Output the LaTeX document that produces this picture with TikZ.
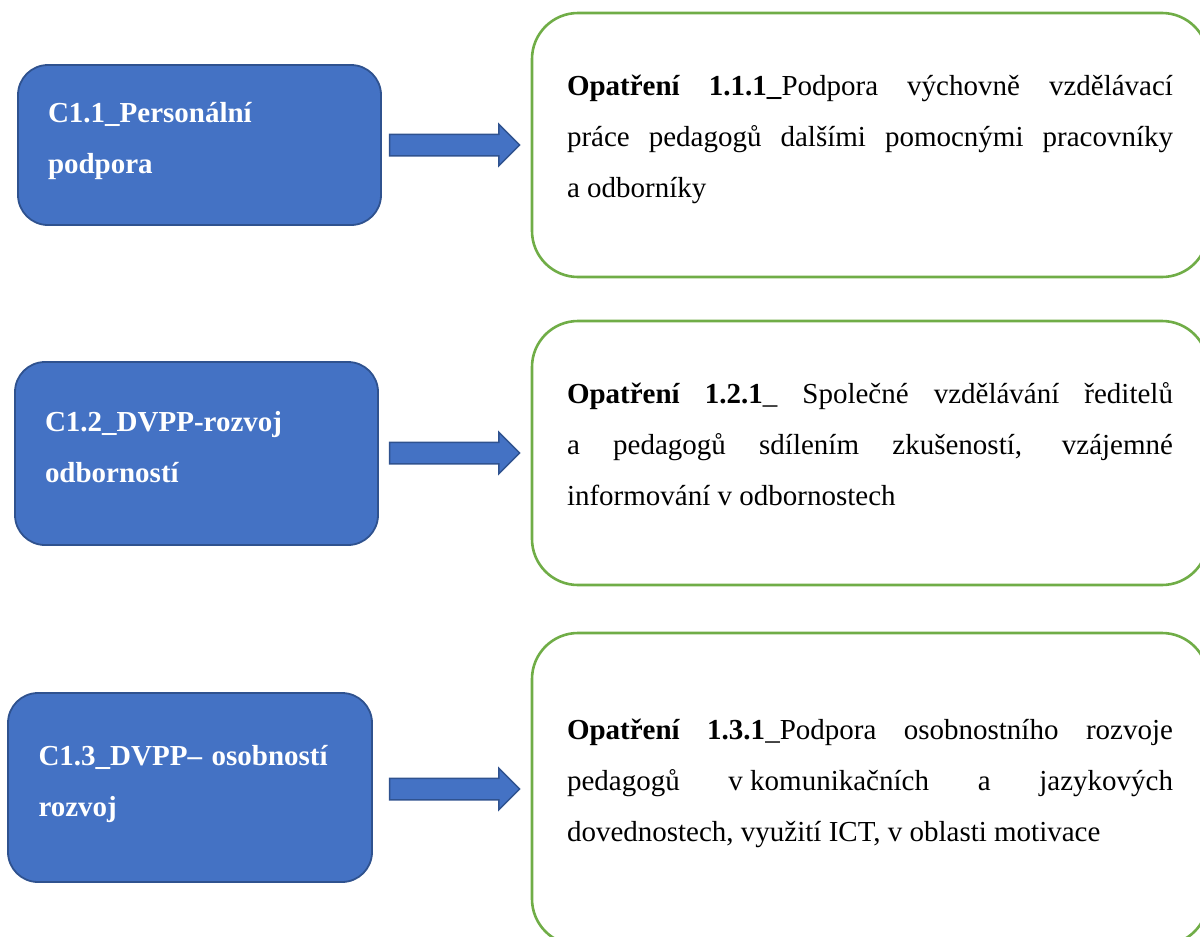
\documentclass[tikz,border=0pt]{standalone}
\usepackage{fontspec}
\setmainfont{Liberation Serif}
\usetikzlibrary{shapes.arrows}

\definecolor{modra}{HTML}{4472C4}
\definecolor{modraokraj}{HTML}{2F528F}
\definecolor{zelena}{HTML}{70AD47}

\hyphenpenalty=10000
\tolerance=9999

\tikzset{
  cil/.style={rectangle, rounded corners=30pt, fill=modra, draw=modraokraj, line width=1.8pt,
    text=white, align=left, text width=303pt, inner xsep=30pt, inner ysep=0pt, text depth=65pt,
    font=\bfseries\fontsize{29}{51}\selectfont},
  opatreni/.style={rectangle, rounded corners=46pt, draw=zelena, line width=2.6pt,
    align=justify, text width=606pt, inner xsep=35pt, inner ysep=0pt, minimum width=676pt,
    text depth=120pt, font=\fontsize{29}{51}\selectfont},
  sipka/.style={single arrow, fill=modra, draw=modraokraj, line width=1.5pt,
    inner xsep=0pt, inner ysep=10pt, single arrow head extend=10pt,
    minimum height=130pt, anchor=tip}
}

\begin{document}
\begin{tikzpicture}[x=1pt, y=-1pt]
\useasboundingbox (0,0) rectangle (1200,937);

\node[cil, minimum width=363pt, minimum height=160pt] (1) at (199.5,145) {C1.1\_Personální\\podpora};
\node[cil, minimum width=363pt, minimum height=183pt] (2) at (196.5,453.5) {C1.2\_DVPP-rozvoj\\odborností};
\node[cil, minimum width=364pt, minimum height=189pt] (3) at (190,787.5) {C1.3\_DVPP– osobností\\rozvoj};

\node[opatreni, minimum height=264pt] (4) at (870,145) {\textbf{Opatření 1.1.1\_}Podpora výchovně vzdělávací\linebreak práce pedagogů dalšími pomocnými pracovníky\linebreak a odborníky};
\node[opatreni, minimum height=264pt] (5) at (870,453) {\textbf{Opatření 1.2.1}\_ Společné vzdělávání ředitelů\linebreak a pedagogů sdílením zkušeností, vzájemné\linebreak informování v odbornostech};
\node[opatreni, minimum height=312pt] (6) at (870,789) {\textbf{Opatření 1.3.1}\_Podpora osobnostního rozvoje\linebreak pedagogů v\kern.25em komunikačních a jazykových\linebreak dovednostech, využití ICT, v oblasti motivace};

\node[sipka] (7) at ([xshift=-10pt]4.west) {};
\node[sipka] (8) at ([xshift=-10pt]5.west) {};
\node[sipka] (9) at ([xshift=-10pt]6.west) {};
\end{tikzpicture}
\end{document}
